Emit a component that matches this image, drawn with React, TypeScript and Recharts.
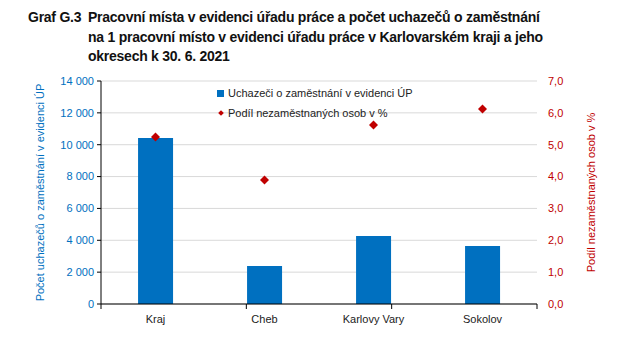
import React from 'react';
import { ComposedChart, Bar, Scatter, XAxis, YAxis, CartesianGrid, Legend } from 'recharts';

const districts = ['Kraj', 'Cheb', 'Karlovy Vary', 'Sokolov'];
const applicants = [10420, 2390, 4270, 3640];
const unemploymentShare = [5.24, 3.89, 5.62, 6.12];
const leftTicks = [0, 2000, 4000, 6000, 8000, 10000, 12000, 14000];
const rightTicks = [0, 1, 2, 3, 4, 5, 6, 7];
const boundaryTicks = [0, 1, 2, 3, 4];

const BLUE = '#0070C0';
const RED = '#C00000';
const FONT = '"Liberation Sans", Arial, sans-serif';

const data = districts.map((name, i) => ({
  name,
  applicants: applicants[i],
  share: unemploymentShare[i],
}));

const fmtThousands = (v: number) => String(v).replace(/\B(?=(\d{3})+(?!\d))/g, ' ');
const fmtPct = (v: number) => v.toFixed(1).replace('.', ',');

const Diamond = (props: any) => {
  const { cx, cy } = props;
  const r = 4.5;
  return <polygon points={`${cx},${cy - r} ${cx + r},${cy} ${cx},${cy + r} ${cx - r},${cy}`} fill={RED} />;
};

const LegendBox = () => (
  <div style={{ fontFamily: FONT, fontSize: 11, color: '#222', lineHeight: '20px' }}>
    <div style={{ display: 'flex', alignItems: 'center' }}>
      <span style={{ width: 7, height: 7, background: BLUE, display: 'inline-block', marginRight: 4 }} />
      Uchazeči o zaměstnání v evidenci ÚP
    </div>
    <div style={{ display: 'flex', alignItems: 'center' }}>
      <span style={{ width: 4, height: 4, background: RED, display: 'inline-block', marginLeft: 2, marginRight: 5, transform: 'rotate(45deg)' }} />
      Podíl nezaměstnaných osob v %
    </div>
  </div>
);

const titleStyle: React.CSSProperties = {
  position: 'absolute',
  top: 8,
  fontFamily: FONT,
  fontWeight: 'bold',
  fontSize: 14,
  letterSpacing: -0.25,
  lineHeight: '19.5px',
  color: '#111',
};

export default function App() {
  return (
    <div style={{ position: 'absolute', left: 0, top: 0, width: 623, height: 351, background: '#fff' }}>
      <div style={{ ...titleStyle, left: 28 }}>Graf G.3</div>
      <div style={{ ...titleStyle, left: 88 }}>
        Pracovní místa v evidenci úřadu práce a počet uchazečů o zaměstnání<br />
        na 1 pracovní místo v evidenci úřadu práce v Karlovarském kraji a jeho<br />
        okresech k 30. 6. 2021
      </div>

      <ComposedChart
        width={623}
        height={351}
        data={data}
        margin={{ top: 81, right: 0, left: 0, bottom: 17 }}
        barCategoryGap="34%"
        style={{ position: 'absolute', left: 0, top: 0 }}
      >
        <CartesianGrid yAxisId="left" horizontal vertical={false} stroke="#d9d9d9" />
        <XAxis
          xAxisId="bounds"
          type="number"
          domain={[0, 4]}
          ticks={boundaryTicks}
          height={6}
          tickSize={5}
          tickFormatter={() => ''}
          axisLine={{ stroke: '#000' }}
          tickLine={{ stroke: '#000' }}
        />
        <XAxis
          xAxisId="cat"
          dataKey="name"
          height={24}
          axisLine={false}
          tickLine={false}
          tickSize={0}
          tickMargin={5}
          interval={0}
          tick={{ fill: '#222', fontSize: 11, fontFamily: FONT }}
        />
        <YAxis
          yAxisId="left"
          width={101}
          domain={[0, 14000]}
          ticks={leftTicks}
          tickFormatter={fmtThousands}
          axisLine={{ stroke: '#000' }}
          tickLine={{ stroke: '#000' }}
          tickSize={4}
          tickMargin={3}
          tick={{ fill: BLUE, fontSize: 11, fontFamily: FONT }}
          label={{
            value: 'Počet uchazečů o zaměstnání v evidenci ÚP',
            angle: -90,
            position: 'insideLeft',
            offset: 40,
            style: { fill: BLUE, fontSize: 11, fontFamily: FONT, textAnchor: 'middle' },
          }}
        />
        <YAxis
          yAxisId="right"
          orientation="right"
          width={86}
          domain={[0, 7]}
          ticks={rightTicks}
          tickFormatter={fmtPct}
          axisLine={false}
          tickLine={false}
          tickSize={0}
          tickMargin={11}
          tick={{ fill: RED, fontSize: 11, fontFamily: FONT }}
          label={{
            value: 'Podíl nezaměstnaných osob v %',
            angle: -90,
            position: 'insideRight',
            offset: 32,
            style: { fill: RED, fontSize: 11, fontFamily: FONT, textAnchor: 'middle' },
          }}
        />
        <Legend
          layout="horizontal"
          verticalAlign="middle"
          align="center"
          content={<LegendBox />}
          wrapperStyle={{ position: 'absolute', left: 217, top: 83, width: 260 }}
        />
        <Bar xAxisId="cat" yAxisId="left" dataKey="applicants" fill={BLUE} isAnimationActive={false} />
        <Scatter xAxisId="cat" yAxisId="right" dataKey="share" shape={<Diamond />} isAnimationActive={false} />
      </ComposedChart>
    </div>
  );
}
